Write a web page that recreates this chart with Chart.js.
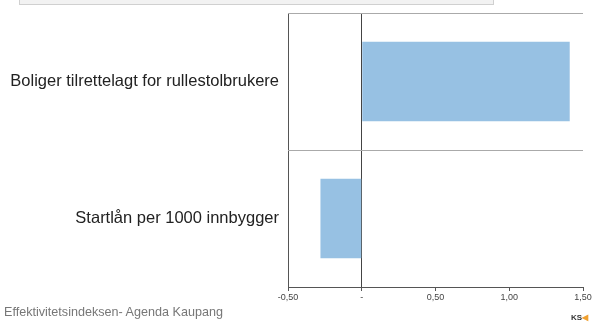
<!DOCTYPE html>
<html>
<head>
<meta charset="utf-8">
<script src="https://cdn.jsdelivr.net/npm/chart.js@4"></script>
<style>
  body { margin: 0; background: #fff; }
  #wrap { position: relative; width: 593px; height: 323px; }
  #topbox { position: absolute; left: 19px; top: -2px; width: 473px; height: 5px;
    background: #f2f2f2; border: 1px solid #d0d0d0; }
  #footer { position: absolute; left: 4px; top: 305px; font: 12.6px "Liberation Sans", Arial, sans-serif; color: #777; }
  #logo { position: absolute; left: 571px; top: 313px; font: bold 8px "Liberation Sans", Arial, sans-serif; color: #333; }
  #logo span { color: #f0a030; }
</style>
</head>
<body>
<div id="wrap">
  <canvas id="myChart" width="593" height="323"></canvas>
  <div id="topbox"></div>
  <div id="footer">Effektivitetsindeksen- Agenda Kaupang</div>
  <div id="logo">KS<span>◀</span></div>
</div>
<script>
// data
const categories = ["Boliger tilrettelagt for rullestolbrukere", "Startlån per 1000 innbygger"];
const values = [1.41, -0.28];
const tickValues = [-0.5, 0, 0.5, 1.0, 1.5];

function formatTick(v) {
  if (Math.abs(v) < 1e-9) return "-";
  return v.toFixed(2).replace(".", ",");
}

const ctx = document.getElementById("myChart").getContext("2d");
new Chart(ctx, {
  type: "bar",
  data: {
    labels: categories,
    datasets: [{
      data: values,
      backgroundColor: "rgb(151,193,227)",
      borderWidth: 0,
      barPercentage: 0.58,
      categoryPercentage: 1
    }]
  },
  options: {
    indexAxis: "y",
    responsive: false,
    animation: false,
    layout: { padding: { top: 13, right: 10, left: 0, bottom: 0 } },
    plugins: { legend: { display: false }, tooltip: { enabled: false } },
    scales: {
      x: {
        min: -0.5,
        max: 1.5,
        afterBuildTicks: function (scale) {
          scale.ticks = tickValues.map(v => ({ value: v }));
        },
        afterFit: function (scale) { scale.height = 36; },
        border: { display: true, color: "#555", width: 1 },
        grid: {
          color: function (c) {
            if (c.tick && Math.abs(c.tick.value) < 1e-9) return "#444";
            if (c.tick && Math.abs(c.tick.value + 0.5) < 1e-9) return "#555";
            return "rgba(0,0,0,0)";
          },
          tickColor: "#555",
          tickLength: 4,
          lineWidth: 1
        },
        ticks: {
          callback: formatTick,
          padding: 1,
          color: "#444",
          font: { family: "Liberation Sans, Arial, sans-serif", size: 9 }
        }
      },
      y: {
        afterFit: function (scale) {
          scale.width = 288;
          scale.paddingTop = 0;
          scale.paddingBottom = 0;
        },
        border: { display: false },
        grid: { color: "#aaa", lineWidth: 1, drawTicks: false, offset: true },
        ticks: {
          padding: 9,
          color: "#222",
          font: { family: "Liberation Sans, Arial, sans-serif", size: 16.5 }
        }
      }
    }
  }
});
</script>
</body>
</html>
